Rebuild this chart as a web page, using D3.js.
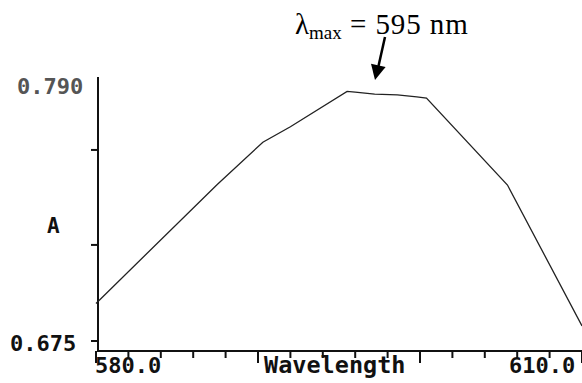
<!DOCTYPE html>
<html>
<head>
<meta charset="utf-8">
<script src="https://cdn.jsdelivr.net/npm/d3@7"></script>
<style>
  html, body { margin: 0; padding: 0; background: #fff; }
  svg { display: block; }
</style>
</head>
<body>
<div id="chart"></div>
<script>
// scan
var wavelengths = [580, 587.5, 590.3, 592, 595.5, 596, 597.2, 598.6, 599.8, 600.4, 605.4, 610]
var absorbance  = [0.692, 0.746, 0.765, 0.772, 0.788, 0.7877, 0.7868, 0.7864, 0.7855, 0.785, 0.7456, 0.6818]

var yTickValues = [0.675, 0.7185, 0.7615]
var yLabels = [0.675, 0.790]
var xLabels = [580, 610]
var xTickValues = d3.range(580, 611, 2)

var WIDTH = 582, HEIGHT = 383
var AXIS_COLOR = '#111',
	LINE_COLOR = '#222',
	MONO = '"DejaVu Sans Mono", "Liberation Mono", monospace',
	SERIF = '"Liberation Serif", "DejaVu Serif", serif'

var AXIS_Y = 351, AXIS_X = 98

var x = d3.scaleLinear().domain([580, 610]).range([96, 582])
var y = d3.scaleLinear().domain([0.675, 0.790]).range([341, 87])

var svg = d3.select('#chart').append('svg')
	.attr('width', WIDTH)
	.attr('height', HEIGHT)

// y axis
svg.append('line')
	.attr('x1', AXIS_X).attr('x2', AXIS_X)
	.attr('y1', 77).attr('y2', AXIS_Y + 1)
	.style('stroke', AXIS_COLOR).style('stroke-width', 2)

svg.selectAll('line.ytick')
	.data(yTickValues)
	.enter().append('line')
		.attr('class', 'ytick')
		.attr('x1', AXIS_X - 7).attr('x2', AXIS_X)
		.attr('y1', function(d){ return y(d) })
		.attr('y2', function(d){ return y(d) })
		.style('stroke', AXIS_COLOR).style('stroke-width', 2)

svg.selectAll('text.ylabel')
	.data(yLabels)
	.enter().append('text')
		.attr('class', 'ylabel')
		.text(function(d){ return d3.format('.3f')(d) })
		.attr('x', function(d){ return d == 0.675 ? 10 : 17 })
		.attr('y', function(d){ return y(d) + (d == 0.675 ? 10 : 7) })
		.attr('font-family', MONO)
		.attr('font-size', 22)
		.attr('font-weight', 'bold')
		.attr('fill', function(d){ return d == 0.675 ? '#111' : '#555' })

svg.append('text')
	.text('A')
	.attr('x', 47).attr('y', 233)
	.attr('font-family', MONO)
	.attr('font-size', 21)
	.attr('font-weight', 'bold')
	.attr('fill', '#111')

// x axis
svg.append('line')
	.attr('x1', AXIS_X - 1).attr('x2', WIDTH)
	.attr('y1', AXIS_Y).attr('y2', AXIS_Y)
	.style('stroke', AXIS_COLOR).style('stroke-width', 2)

svg.selectAll('line.xtick')
	.data(xTickValues)
	.enter().append('line')
		.attr('class', 'xtick')
		.attr('x1', function(d){ return x(d) })
		.attr('x2', function(d){ return x(d) })
		.attr('y1', AXIS_Y)
		.attr('y2', function(d){ return (d % 10 == 0) ? AXIS_Y + 12 : AXIS_Y + 7 })
		.style('stroke', AXIS_COLOR).style('stroke-width', 2)

svg.selectAll('text.xlabel')
	.data(xLabels)
	.enter().append('text')
		.attr('class', 'xlabel')
		.text(function(d){ return d3.format('.1f')(d) })
		.attr('x', function(d){ return d == 580 ? x(d) - 1 : x(d) - 73 })
		.attr('y', 373)
		.attr('font-family', MONO)
		.attr('font-size', 22)
		.attr('font-weight', 'bold')
		.attr('fill', '#111')

svg.append('text')
	.text('Wavelength')
	.attr('x', 264).attr('y', 373)
	.attr('font-family', MONO)
	.attr('font-size', 23.5)
	.attr('font-weight', 'bold')
	.attr('fill', '#111')

// spectrum
var line = d3.line()
	.x(function(d){ return x(d[0]) })
	.y(function(d){ return y(d[1]) })

svg.append('path')
	.datum(d3.zip(wavelengths, absorbance))
	.attr('d', line)
	.style('fill', 'none')
	.style('stroke', LINE_COLOR)
	.style('stroke-width', 1.3)

// lambda max annotation
var note = svg.append('text')
	.attr('x', 295).attr('y', 34)
	.attr('font-family', SERIF)
	.attr('font-size', 29)
	.attr('fill', '#000')

note.append('tspan').text('λ')
note.append('tspan').text('max')
	.attr('font-size', 19).attr('dy', 5)
note.append('tspan').text(' = 595 nm')
	.attr('dy', -5)
	.attr('textLength', 126)

svg.append('line')
	.attr('x1', 385).attr('y1', 37)
	.attr('x2', 378.5).attr('y2', 66)
	.style('stroke', '#000').style('stroke-width', 2.5)

svg.append('path')
	.attr('d', 'M375,80 L371,63.8 L385.6,67 Z')
	.style('fill', '#000')
</script>
</body>
</html>
